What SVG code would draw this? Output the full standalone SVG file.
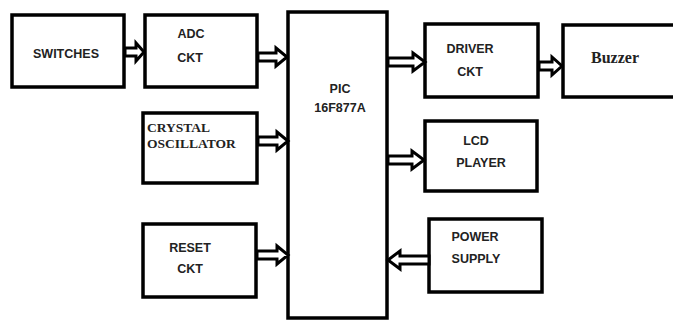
<svg xmlns="http://www.w3.org/2000/svg" width="673" height="320" viewBox="0 0 673 320">
<style>
.box{fill:#fff;stroke:#000;stroke-width:3.5}
.arr{fill:#fff;stroke:#000;stroke-width:3;stroke-linejoin:miter}
.s{font-family:"Liberation Sans",Arial,sans-serif;font-weight:bold;font-size:12.5px;fill:#222;text-anchor:middle}
.r{font-family:"Liberation Serif","Times New Roman",serif;font-weight:bold;fill:#222}
</style>
<rect width="673" height="320" fill="#fff"/>
<g id="switches"><rect class="box" x="12" y="15" width="112" height="72"/><text class="s" x="66" y="58">SWITCHES</text></g>
<g id="adc"><rect class="box" x="145" y="15" width="112" height="72"/><text class="s" x="191" y="38">ADC</text><text class="s" x="190" y="62">CKT</text></g>
<g id="pic"><rect class="box" x="288" y="12" width="99" height="306"/><text class="s" x="340" y="93">PIC</text><text class="s" x="340" y="112">16F877A</text></g>
<g id="crystal"><rect class="box" x="143" y="113" width="114" height="70"/><text class="r" font-size="13.5" x="147" y="132">CRYSTAL</text><text class="r" font-size="13.5" x="147" y="148">OSCILLATOR</text></g>
<g id="reset"><rect class="box" x="143" y="224" width="113" height="73"/><text class="s" x="190" y="252">RESET</text><text class="s" x="190" y="273">CKT</text></g>
<g id="driver"><rect class="box" x="425" y="24" width="113" height="73"/><text class="s" x="470" y="53">DRIVER</text><text class="s" x="470" y="76">CKT</text></g>
<g id="buzzer"><rect class="box" x="563" y="25" width="115" height="72"/><text class="r" font-size="16px" x="615" y="63" text-anchor="middle">Buzzer</text></g>
<g id="lcd"><rect class="box" x="425" y="121" width="112" height="70"/><text class="s" x="476" y="145">LCD</text><text class="s" x="481" y="167">PLAYER</text></g>
<g id="power"><rect class="box" x="429" y="219" width="113" height="73"/><text class="s" x="475" y="241">POWER</text><text class="s" x="476" y="263">SUPPLY</text></g>
<g id="connectors">
<polygon class="arr" points="125,48 136,48 136,43 144,52 136,61 136,56 125,56"/>
<polygon class="arr" points="258,53 276,53 276,48 287,57 276,66 276,61 258,61"/>
<polygon class="arr" points="258,137 277,137 277,132 288,141 277,150 277,145 258,145"/>
<polygon class="arr" points="257,251 277,251 277,246 288,255 277,264 277,259 257,259"/>
<polygon class="arr" points="388,58 413,58 413,53 425,62 413,71 413,66 388,66"/>
<polygon class="arr" points="388,156 412,156 412,151 424,160 412,169 412,164 388,164"/>
<polygon class="arr" points="429,256 400,256 400,251 388,260 400,269 400,264 429,264"/>
<polygon class="arr" points="539,62 552,62 552,57 562,66 552,75 552,70 539,70"/>
</g>
</svg>
